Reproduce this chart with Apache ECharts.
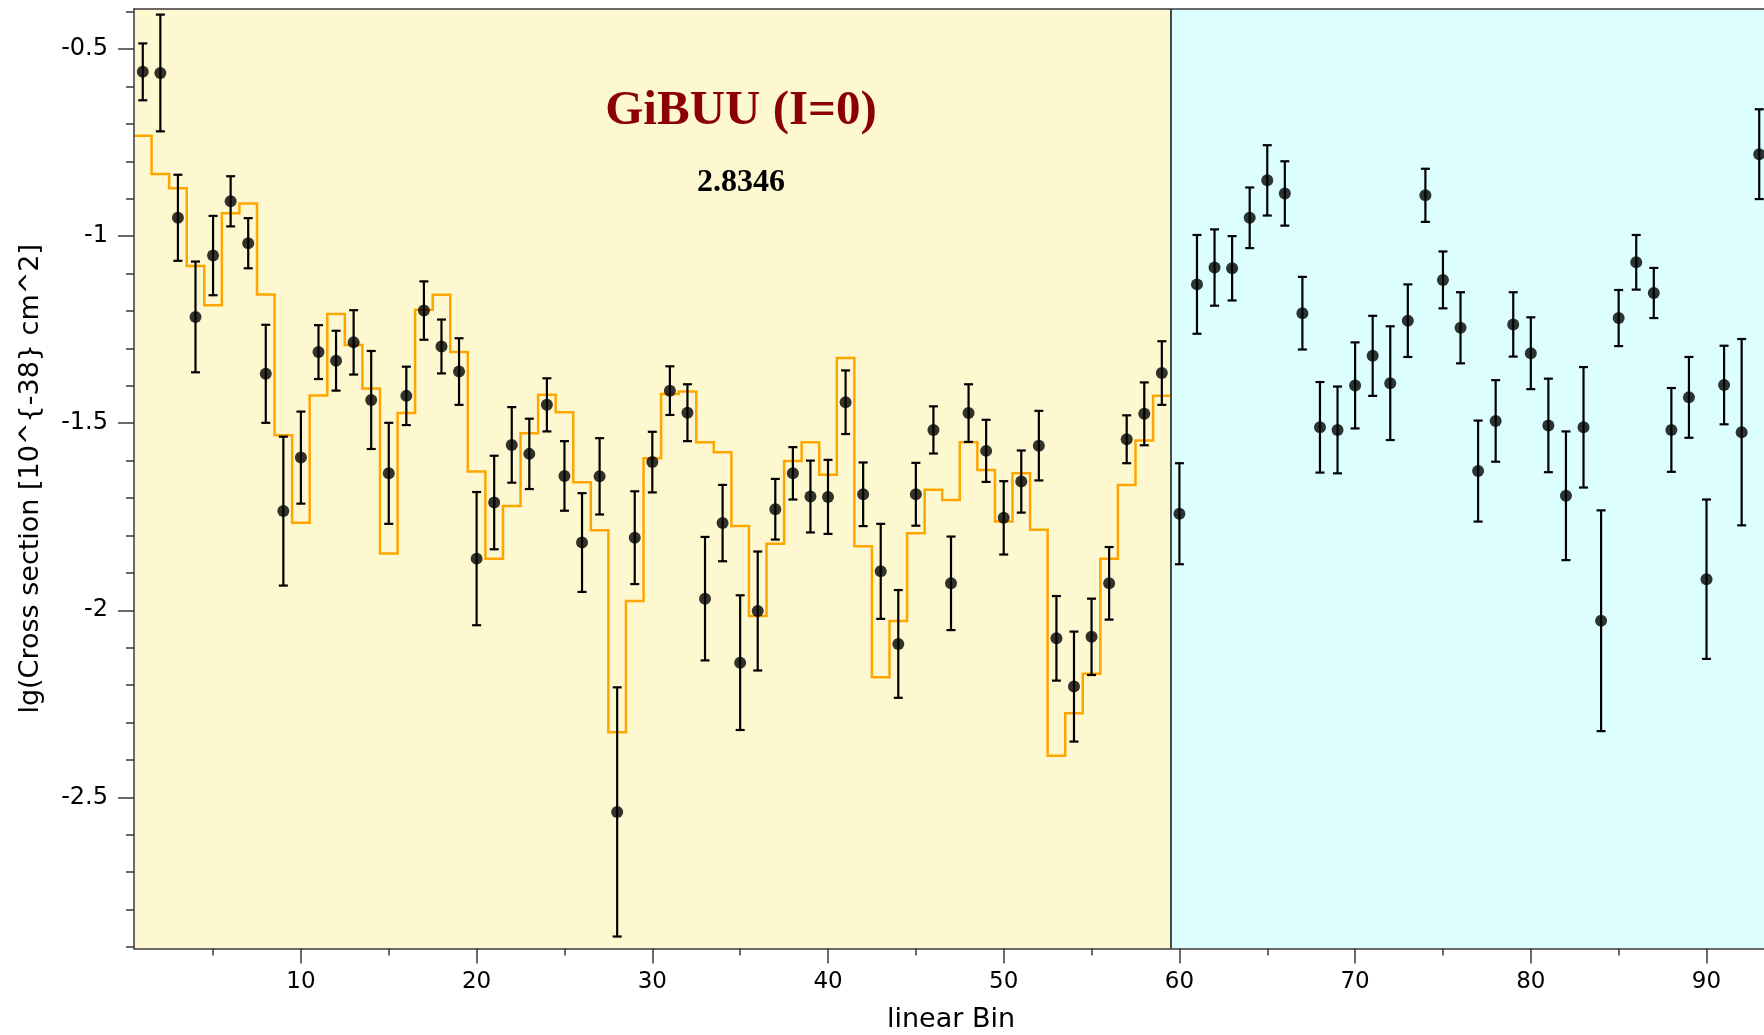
<!DOCTYPE html>
<html>
<head>
<meta charset="utf-8">
<title>GiBUU (I=0) – lg cross section per linear bin</title>
<script src="https://cdn.jsdelivr.net/npm/echarts@6/dist/echarts.min.js"></script>
<style>
  html, body { margin: 0; padding: 0; background: #ffffff; }
  #chart { width: 1764px; height: 1035px; }
</style>
</head>
<body>
<div id="chart"></div>
<script>
// Measured lg(cross section) per linear bin, with symmetric uncertainties
const xsecValues = [
  -0.561, -0.564, -0.951, -1.216, -1.052, -0.907, -1.019, -1.368, -1.735, -1.592,
  -1.310, -1.333, -1.284, -1.438, -1.634, -1.427, -1.199, -1.295, -1.362, -1.862,
  -1.712, -1.558, -1.582, -1.451, -1.641, -1.819, -1.642, -2.539, -1.806, -1.604,
  -1.413, -1.472, -1.969, -1.767, -2.140, -2.002, -1.730, -1.634, -1.696, -1.697,
  -1.444, -1.690, -1.896, -2.090, -1.690, -1.518, -1.928, -1.473, -1.574, -1.753,
  -1.656, -1.560, -2.075, -2.204, -2.071, -1.928, -1.543, -1.475, -1.366, -1.742,
  -1.129, -1.084, -1.086, -0.951, -0.851, -0.886, -1.206, -1.511, -1.518, -1.399,
  -1.320, -1.393, -1.226, -0.891, -1.117, -1.245, -1.628, -1.494, -1.236, -1.313,
  -1.506, -1.694, -1.511, -2.028, -1.219, -1.070, -1.152, -1.518, -1.431, -1.917,
  -1.398, -1.524, -0.781
];
const xsecErrors = [
  0.076, 0.156, 0.115, 0.148, 0.106, 0.067, 0.067, 0.131, 0.199, 0.123,
  0.072, 0.080, 0.086, 0.131, 0.135, 0.078, 0.078, 0.072, 0.089, 0.178,
  0.125, 0.101, 0.094, 0.071, 0.093, 0.132, 0.102, 0.333, 0.124, 0.081,
  0.065, 0.076, 0.165, 0.102, 0.180, 0.159, 0.081, 0.070, 0.096, 0.099,
  0.085, 0.085, 0.127, 0.144, 0.084, 0.063, 0.125, 0.077, 0.083, 0.098,
  0.083, 0.093, 0.113, 0.147, 0.102, 0.097, 0.064, 0.084, 0.085, 0.135,
  0.132, 0.102, 0.086, 0.081, 0.094, 0.086, 0.097, 0.121, 0.116, 0.115,
  0.107, 0.152, 0.097, 0.071, 0.076, 0.095, 0.135, 0.109, 0.086, 0.096,
  0.125, 0.172, 0.161, 0.295, 0.075, 0.073, 0.067, 0.112, 0.108, 0.213,
  0.105, 0.249, 0.120
];

// GiBUU (I=0) prediction, bins 1..59
const gibuuValues = [
  -0.732, -0.834, -0.872, -1.080, -1.185, -0.939, -0.913, -1.156, -1.532, -1.766,
  -1.426, -1.208, -1.291, -1.407, -1.848, -1.473, -1.197, -1.157, -1.310, -1.629,
  -1.862, -1.721, -1.527, -1.424, -1.471, -1.658, -1.786, -2.326, -1.975, -1.594,
  -1.422, -1.415, -1.551, -1.578, -1.775, -2.015, -1.822, -1.601, -1.551, -1.638,
  -1.326, -1.829, -2.179, -2.029, -1.794, -1.678, -1.705, -1.551, -1.625, -1.763,
  -1.634, -1.785, -2.389, -2.275, -2.170, -1.862, -1.665, -1.546, -1.427
];

// Region boundaries along the bin axis (first block / second block)
const regionEdges = [0.5, 59.5, 93.5];
const regionColors = ['#FEF8D0', '#DCFEFE'];

// Axis extents and ticks
const xExtent = [0.5, 93.5];
const yExtent = [-2.904, -0.393];
const xMajorTicks = [10, 20, 30, 40, 50, 60, 70, 80, 90];
const xMinorTicks = [5, 15, 25, 35, 45, 55, 65, 75, 85];
const yMajorTicks = [-2.5, -2, -1.5, -1, -0.5];
const yMinorTicks = [-2.9, -2.8, -2.7, -2.6, -2.4, -2.3, -2.2, -2.1, -1.9, -1.8, -1.7, -1.6,
                     -1.4, -1.3, -1.2, -1.1, -0.9, -0.8, -0.7, -0.6, -0.4];

const titleText = 'GiBUU (I=0)';
const scoreText = '2.8346';

// Assemble [bin, value, error] rows for the points and error bars
const bins = xsecValues.map((_, i) => i + 1);
const pointRows = bins.map((b, i) => [b, xsecValues[i], xsecErrors[i]]);

// Histogram outline: each bin contributes its left and right edge at the bin value
const stepPoints = [];
gibuuValues.forEach((v, i) => {
  const b = i + 1;
  stepPoints.push([b - 0.5, v]);
  stepPoints.push([b + 0.5, v]);
});

const sansFont = 'DejaVu Sans';
const serifFont = 'Liberation Serif';
const axisColor = '#3a3a3a';

const chart = echarts.init(document.getElementById('chart'), null, { renderer: 'canvas' });

const option = {
  animation: false,
  backgroundColor: '#ffffff',
  grid: { left: 134, right: -4, top: 9, bottom: 86.5, containLabel: false, outerBoundsMode: 'none' },
  xAxis: [
    {
      type: 'value', min: xExtent[0], max: xExtent[1], z: 10,
      name: 'linear Bin', nameLocation: 'middle', nameGap: 58,
      nameTextStyle: { fontFamily: sansFont, fontSize: 27, color: '#000' },
      axisLine: { show: true, onZero: false, lineStyle: { color: axisColor, width: 1.5 } },
      axisTick: { show: true, inside: false, length: 15, customValues: xMajorTicks,
                  lineStyle: { color: axisColor, width: 1.5 } },
      axisLabel: { show: true, margin: 22, customValues: xMajorTicks,
                   fontFamily: sansFont, fontSize: 23, color: '#000' },
      splitLine: { show: false }
    },
    {
      type: 'value', min: xExtent[0], max: xExtent[1], z: 10, position: 'bottom',
      axisLine: { show: false, onZero: false },
      axisTick: { show: true, inside: false, length: 7, customValues: xMinorTicks,
                  lineStyle: { color: axisColor, width: 1.5 } },
      axisLabel: { show: false },
      splitLine: { show: false }
    },
    {
      type: 'value', min: xExtent[0], max: xExtent[1], z: 10, position: 'top',
      axisLine: { show: true, onZero: false, lineStyle: { color: axisColor, width: 1.5 } },
      axisTick: { show: false },
      axisLabel: { show: false },
      splitLine: { show: false }
    }
  ],
  yAxis: [
    {
      type: 'value', min: yExtent[0], max: yExtent[1], z: 10,
      name: 'lg(Cross section [10^{-38} cm^2]', nameLocation: 'middle', nameGap: 90,
      nameRotate: 90,
      nameTextStyle: { fontFamily: sansFont, fontSize: 27, color: '#000' },
      axisLine: { show: true, onZero: false, lineStyle: { color: axisColor, width: 1.5 } },
      axisTick: { show: true, inside: false, length: 16, customValues: yMajorTicks,
                  lineStyle: { color: axisColor, width: 1.5 } },
      axisLabel: { show: true, margin: 26, customValues: yMajorTicks,
                   fontFamily: sansFont, fontSize: 24, color: '#000' },
      splitLine: { show: false }
    },
    {
      type: 'value', min: yExtent[0], max: yExtent[1], z: 10, position: 'left',
      axisLine: { show: false, onZero: false },
      axisTick: { show: true, inside: false, length: 8, customValues: yMinorTicks,
                  lineStyle: { color: axisColor, width: 1.5 } },
      axisLabel: { show: false },
      splitLine: { show: false }
    }
  ],
  graphic: [
    {
      type: 'text', x: 741, y: 111, z: 20,
      style: {
        text: titleText, align: 'center', verticalAlign: 'middle',
        font: 'bold 49px "' + serifFont + '"', fill: '#8B0000'
      }
    },
    {
      type: 'text', x: 741, y: 183, z: 20,
      style: {
        text: scoreText, align: 'center', verticalAlign: 'middle',
        font: 'bold 32px "' + serifFont + '"', fill: '#000000'
      }
    }
  ],
  series: [
    {
      name: 'GiBUU (I=0)',
      type: 'line',
      xAxisIndex: 0, yAxisIndex: 0,
      data: stepPoints,
      showSymbol: false,
      silent: true,
      z: 3,
      lineStyle: { color: '#FFA500', width: 2.5, join: 'miter' },
      markArea: {
        silent: true,
        z: 1,
        data: [
          [{ xAxis: regionEdges[0], itemStyle: { color: regionColors[0] } }, { xAxis: regionEdges[1] }],
          [{ xAxis: regionEdges[1], itemStyle: { color: regionColors[1] } }, { xAxis: regionEdges[2] }]
        ]
      },
      markLine: {
        silent: true,
        symbol: 'none',
        label: { show: false },
        lineStyle: { color: '#111111', width: 1.5, type: 'solid' },
        data: [{ xAxis: regionEdges[1] }]
      }
    },
    {
      name: 'errors',
      type: 'custom',
      xAxisIndex: 0, yAxisIndex: 0,
      data: pointRows,
      silent: true,
      z: 4,
      encode: { x: 0, y: 1 },
      renderItem: function (params, api) {
        const x = api.value(0);
        const v = api.value(1);
        const e = api.value(2);
        const hi = api.coord([x, v + e]);
        const lo = api.coord([x, v - e]);
        const cap = 4.5;
        const style = { stroke: '#000000', lineWidth: 2.2 };
        return {
          type: 'group',
          children: [
            { type: 'line', shape: { x1: hi[0], y1: hi[1], x2: lo[0], y2: lo[1] }, style: style },
            { type: 'line', shape: { x1: hi[0] - cap, y1: hi[1], x2: hi[0] + cap, y2: hi[1] }, style: style },
            { type: 'line', shape: { x1: lo[0] - cap, y1: lo[1], x2: lo[0] + cap, y2: lo[1] }, style: style }
          ]
        };
      }
    },
    {
      name: 'data',
      type: 'scatter',
      xAxisIndex: 0, yAxisIndex: 0,
      data: pointRows.map(r => [r[0], r[1]]),
      symbol: 'circle',
      symbolSize: 12,
      silent: true,
      z: 5,
      itemStyle: { color: '#000000' }
    }
  ]
};

chart.setOption(option);
</script>
</body>
</html>
